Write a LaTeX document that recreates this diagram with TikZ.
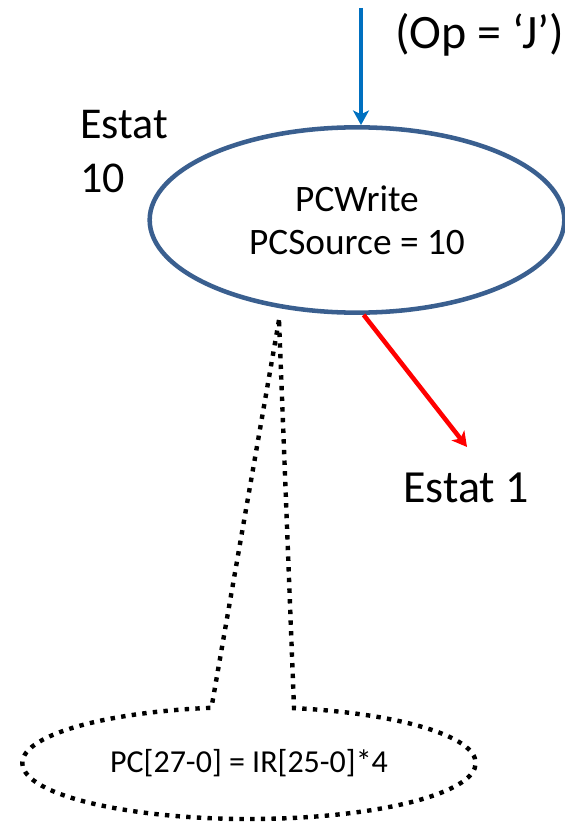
\documentclass[tikz,border=0pt]{standalone}
\usepackage{fontspec}
\setmainfont{Carlito}
\usetikzlibrary{arrows.meta,shapes.geometric,shapes.callouts}
\definecolor{stateblue}{HTML}{3A5F8F}
\definecolor{inblue}{HTML}{0070C0}
\tikzset{
  state/.style={ellipse,draw=stateblue,line width=3.4pt,minimum width=311pt,minimum height=139pt,inner sep=0pt,align=center,font=\fontsize{28}{32}\selectfont},
  note/.style={ellipse callout,draw,line width=3.3pt,dash pattern=on 3.3pt off 4.7pt,minimum width=340pt,minimum height=84pt,inner sep=0pt,callout pointer arc=21,font=\fontsize{24}{29}\selectfont},
  big/.style={inner sep=0pt,font=\fontsize{33}{41}\selectfont},
  flow/.style={line width=3.4pt,-{Stealth[length=11pt,width=12pt,inset=3pt]}}
}
\begin{document}
\begin{tikzpicture}[x=0.75pt,y=-0.75pt]
\useasboundingbox (0,0) rectangle (564,827);
%state 10
\node[state] (s10) at (357,220) {PCWrite\\PCSource = 10};
\node[big,anchor=base west,align=left] (name10) at (80,193) {Estat\\10};
\node[big,anchor=base west,font=\fontsize{36}{41}\selectfont] (cond) at (395,49) {(Op = ‘J’)};
\node[big,anchor=base west,font=\fontsize{34.5}{41}\selectfont] (st1) at (403,502) {Estat 1};
%arrows
\coordinate (opin) at (361,8);
\coordinate (to1) at (467,447);
\draw[flow,inblue] (opin) -- (opin |- s10.north);
\draw[flow,red] (s10.-86) -- (to1);
%callout
\coordinate (tip) at (279,320);
\node[note,callout absolute pointer={(tip)}] (eq) at (249,763) {PC[27-0] = IR[25-0]*4};
\end{tikzpicture}
\end{document}
